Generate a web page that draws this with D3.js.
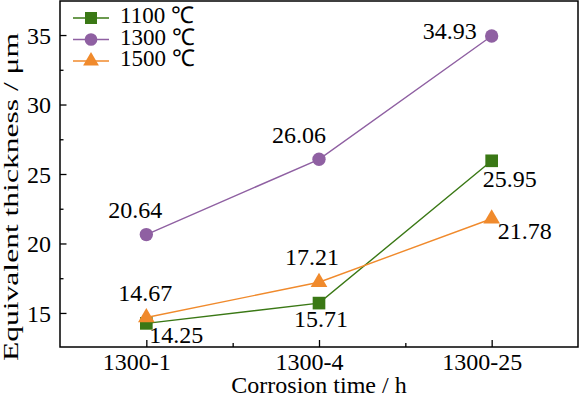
<!DOCTYPE html>
<html>
<head>
<meta charset="utf-8">
<script src="https://cdn.jsdelivr.net/npm/d3@7"></script>
<style>
  body { margin: 0; background: #fff; }
  svg text { font-family: "Liberation Serif", "Times New Roman", serif; fill: #000; }
</style>
</head>
<body>
<div id="chart"></div>
<script>
// data
const categories = ["1300-1", "1300-4", "1300-25"];
const seriesNames = ["1100 ℃", "1300 ℃", "1500 ℃"];
const values1100 = [14.25, 15.71, 25.95];
const values1300 = [20.64, 26.06, 34.93];
const values1500 = [14.67, 17.21, 21.78];
const yTicks = [15, 20, 25, 30, 35];

const width = 580, height = 397;
const margin = {top: 1, right: 2, bottom: 50, left: 60};
const FONT = 24;

// styling per series (label offsets in px from point)
const styles = [
  {color: "#3a7815", symbol: d3.symbolSquare, size: 160,
   labelOff: [[30, 20], [2, 24], [18, 26]]},
  {color: "#8f60a2", symbol: d3.symbolCircle, size: 140,
   labelOff: [[-11, -17], [-20, -16], [-42, 3]]},
  {color: "#f08a2c", symbol: d3.symbolTriangle, size: 120,
   labelOff: [[-1, -17], [-7, -17], [33, 20]]}
];
const allValues = [values1100, values1300, values1500];

const svg = d3.select("#chart").append("svg")
  .attr("width", width)
  .attr("height", height);

const x = d3.scaleLinear().domain([0.5, 3.5]).range([margin.left, width - margin.right]);
const y = d3.scaleLinear().domain([12.55, 37.45]).range([height - margin.bottom, margin.top]);

const x0 = margin.left, x1 = width - margin.right;
const y0 = height - margin.bottom, y1 = margin.top;

// minor ticks
svg.append("g")
  .attr("transform", `translate(${x0},0)`)
  .call(d3.axisRight(y).tickValues(d3.range(12.5, 37.6, 5).filter(d => d > 12.55 && d < 37.45)).tickSize(3.5).tickFormat(""))
  .call(g => g.select(".domain").remove());
svg.append("g")
  .attr("transform", `translate(0,${y0})`)
  .call(d3.axisTop(x).tickValues([1.5, 2.5]).tickSize(4).tickFormat(""))
  .call(g => g.select(".domain").remove());

// major ticks, pointing inward
const yAxis = svg.append("g")
  .attr("transform", `translate(${x0},0)`)
  .call(d3.axisRight(y).tickValues(yTicks).tickSize(6.5).tickFormat(d3.format("d")));
yAxis.select(".domain").remove();
yAxis.selectAll("text")
  .attr("x", -9)
  .attr("dy", "0.34em")
  .attr("text-anchor", "end")
  .style("font-size", FONT + "px")
  .style("font-family", "Liberation Serif");

const xAxis = svg.append("g")
  .attr("transform", `translate(0,${y0})`)
  .call(d3.axisTop(x).tickValues([1, 2, 3]).tickSize(7).tickFormat((d, i) => categories[i]));
xAxis.select(".domain").remove();
xAxis.selectAll("text")
  .attr("y", 23)
  .attr("dx", -10)
  .attr("dy", 0)
  .style("font-size", FONT + "px")
  .style("font-family", "Liberation Serif");

svg.selectAll(".tick line").attr("stroke", "#000").attr("stroke-width", 1.3);

// frame
svg.append("rect")
  .attr("x", x0).attr("y", y1)
  .attr("width", x1 - x0).attr("height", y0 - y1)
  .attr("fill", "none").attr("stroke", "#000").attr("stroke-width", 1.5);

// series
const line = d3.line().x((d, i) => x(i + 1)).y(d => y(d));
allValues.forEach((vals, s) => {
  const st = styles[s];
  const g = svg.append("g");
  g.append("path")
    .datum(vals)
    .attr("d", line)
    .attr("fill", "none")
    .attr("stroke", st.color)
    .attr("stroke-width", 1.4);
  g.selectAll("path.pt")
    .data(vals)
    .join("path")
    .attr("class", "pt")
    .attr("transform", (d, i) => `translate(${x(i + 1)},${y(d)})`)
    .attr("d", d3.symbol(st.symbol, st.size))
    .attr("fill", st.color);
});

// value labels
allValues.forEach((vals, s) => {
  const st = styles[s];
  svg.append("g").selectAll("text")
    .data(vals)
    .join("text")
    .attr("x", (d, i) => x(i + 1) + st.labelOff[i][0])
    .attr("y", (d, i) => y(d) + st.labelOff[i][1])
    .attr("text-anchor", "middle")
    .style("font-size", FONT + "px")
    .text(d => d.toFixed(2));
});

// legend
const legend = svg.append("g").attr("transform", "translate(73,18)");
seriesNames.forEach((name, s) => {
  const st = styles[s];
  const row = legend.append("g").attr("transform", `translate(0,${s * 21.5})`);
  row.append("line")
    .attr("x1", 0).attr("x2", 36)
    .attr("stroke", st.color).attr("stroke-width", 1.4);
  row.append("path")
    .attr("transform", "translate(18,0)")
    .attr("d", d3.symbol(st.symbol, st.size * 0.9))
    .attr("fill", st.color);
  row.append("text")
    .attr("x", 47).attr("y", 5)
    .style("font-size", (FONT - 1) + "px")
    .text(name);
});

// axis titles
svg.append("text")
  .attr("x", (x0 + x1) / 2)
  .attr("y", 393)
  .attr("text-anchor", "middle")
  .style("font-size", FONT + "px")
  .text("Corrosion time / h");

svg.append("text")
  .attr("transform", "translate(18,197) rotate(-90)")
  .attr("text-anchor", "middle")
  .style("font-size", "22px")
  .attr("textLength", 328)
  .attr("lengthAdjust", "spacingAndGlyphs")
  .text("Equivalent thickness / μm");
</script>
</body>
</html>
